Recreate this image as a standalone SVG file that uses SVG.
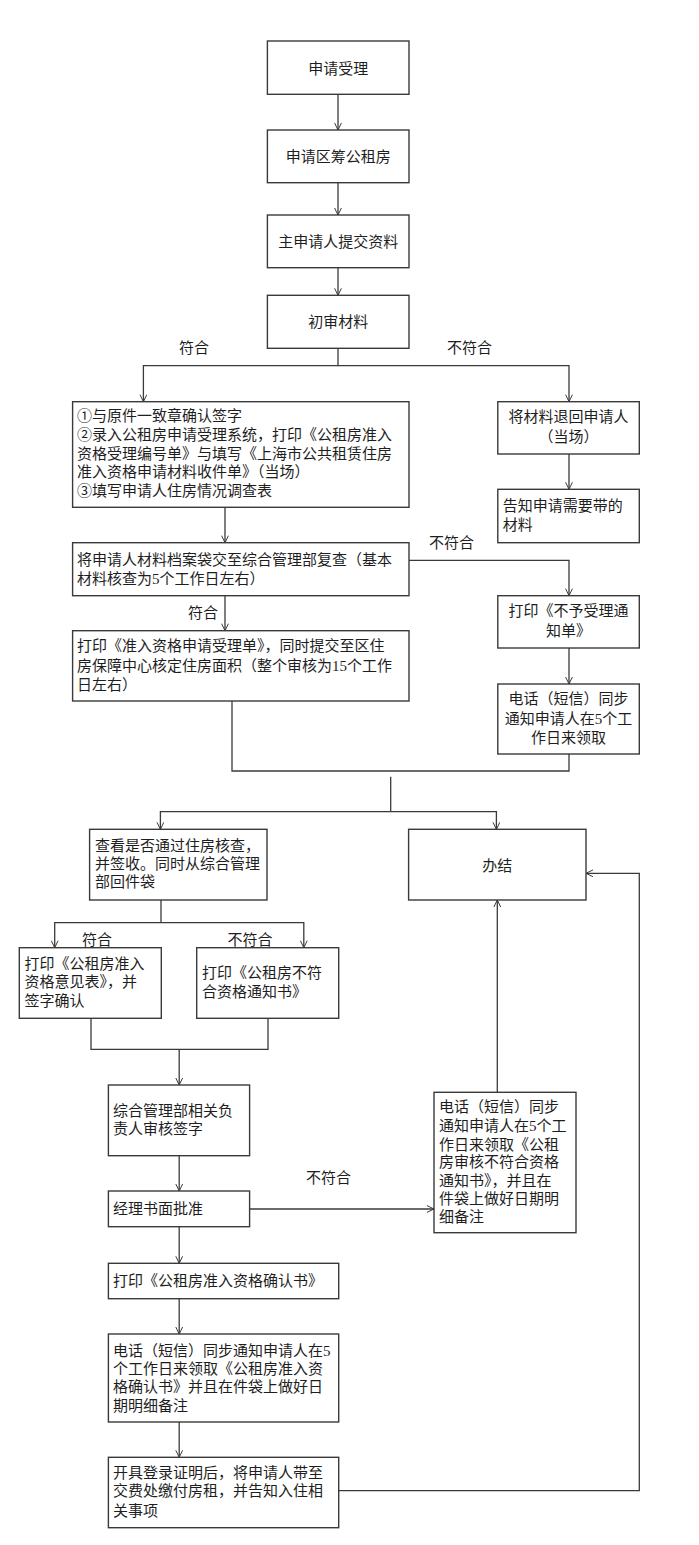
<svg xmlns="http://www.w3.org/2000/svg" width="699" height="1545" viewBox="0 0 699 1545">
<defs>
<marker id="arr" viewBox="0 0 8 8" refX="7.5" refY="4" markerWidth="8" markerHeight="8" markerUnits="userSpaceOnUse" orient="auto">
<path d="M0.5,0.6 L7.5,4 L0.5,7.4" fill="none" stroke="#3a3a3a" stroke-width="1"/>
</marker>
<style>
rect{fill:#fff;stroke:#3a3a3a;stroke-width:1.4}
text{font-family:"Liberation Serif","Noto Sans CJK SC",serif;font-size:15px;fill:#1e1e1e}
.c{text-anchor:middle}
#connectors path{fill:none;stroke:#3a3a3a;stroke-width:1.3}
.a{marker-end:url(#arr)}
</style>
</defs>
<rect x="0" y="0" width="699" height="1545" style="fill:#fff;stroke:none"/>
<g id="connectors">
<path class="a" d="M338,94.3 V130"/>
<path class="a" d="M338,182.7 V215"/>
<path class="a" d="M338,267.7 V295.3"/>
<path class="a" d="M338,348.3 V365.7 H143.4 V401.7"/>
<path class="a" d="M338,365.7 H569 V401.7"/>
<path class="a" d="M225,507.3 V542.7"/>
<path class="a" d="M409,560.3 H569 V595.7"/>
<path class="a" d="M225,595.7 V630.7"/>
<path class="a" d="M569,454 V489.3"/>
<path class="a" d="M569,648 V684"/>
<path d="M232,701 V771 H569 V754"/>
<path d="M390.7,776.7 V811.7"/>
<path class="a" d="M390.7,811.7 H160.4 V829.3"/>
<path class="a" d="M390.7,811.7 H496.4 V829.3"/>
<path d="M161,900 V922.7"/>
<path class="a" d="M161,922.7 H54.7 V947.7"/>
<path class="a" d="M161,922.7 H303.8 V947.7"/>
<path d="M91,1018.3 V1049.3 H268 V1018.3"/>
<path class="a" d="M179.2,1049.3 V1085"/>
<path class="a" d="M179.2,1155.7 V1191"/>
<path class="a" d="M249.6,1209 H434"/>
<path class="a" d="M497.3,1092.3 V900"/>
<path class="a" d="M179.2,1226.7 V1263.3"/>
<path class="a" d="M179.2,1298.7 V1334"/>
<path class="a" d="M179.2,1422 V1457.3"/>
<path class="a" d="M338.7,1490.7 H639.3 V873.3 H586"/>
</g>
<g id="labels">
<text x="179" y="352.5">符合</text>
<text x="447" y="352.5">不符合</text>
<text x="429" y="547.8">不符合</text>
<text x="188" y="617.8">符合</text>
<text x="82" y="944.5">符合</text>
<text x="227.6" y="944.5">不符合</text>
<text x="306" y="1183.2">不符合</text>
</g>
<g id="n1"><rect x="267.4" y="41" width="141.6" height="53.3"/><text class="c" x="338.2" y="73.5">申请受理</text></g>
<g id="n2"><rect x="267.4" y="130" width="141.6" height="52.7"/><text class="c" x="338.2" y="161.5">申请区筹公租房</text></g>
<g id="n3"><rect x="267.4" y="215" width="141.6" height="52.7"/><text class="c" x="338.2" y="246.5">主申请人提交资料</text></g>
<g id="n4"><rect x="267.4" y="295.3" width="141.6" height="53"/><text class="c" x="338.2" y="327">初审材料</text></g>
<g id="nA"><rect x="72.6" y="401.7" width="336.4" height="105.6"/>
<text x="77" y="421.2">①与原件一致章确认签字</text>
<text x="77" y="439.9">②录入公租房申请受理系统，打印《公租房准入</text>
<text x="77" y="458.6">资格受理编号单》与填写《上海市公共租赁住房</text>
<text x="77" y="477.3">准入资格申请材料收件单》（当场）</text>
<text x="77" y="496.3">③填写申请人住房情况调查表</text></g>
<g id="nR1"><rect x="497.8" y="401.7" width="141.5" height="52.3"/>
<text class="c" x="568.5" y="422.2">将材料退回申请人</text>
<text class="c" x="568.5" y="441.5">（当场）</text></g>
<g id="nR2"><rect x="497.8" y="489.3" width="141.5" height="53.4"/>
<text x="502.7" y="511.2">告知申请需要带的</text>
<text x="502.7" y="529.5">材料</text></g>
<g id="nB"><rect x="72.6" y="542.7" width="336.4" height="53"/>
<text x="77" y="564.8">将申请人材料档案袋交至综合管理部复查（基本</text>
<text x="77" y="583.8">材料核查为5个工作日左右）</text></g>
<g id="nC"><rect x="72.6" y="630.7" width="336.4" height="70.3"/>
<text x="77" y="651.2">打印《准入资格申请受理单》，同时提交至区住</text>
<text x="77" y="670.5">房保障中心核定住房面积（整个审核为15个工作</text>
<text x="77" y="689.5">日左右）</text></g>
<g id="nR3"><rect x="497.8" y="595.7" width="141.5" height="52.3"/>
<text class="c" x="568.5" y="616.2">打印《不予受理通</text>
<text class="c" x="568.5" y="635.5">知单》</text></g>
<g id="nR4"><rect x="497.8" y="684" width="141.5" height="70"/>
<text class="c" x="568.5" y="703.8">电话（短信）同步</text>
<text class="c" x="568.5" y="723.8">通知申请人在5个工</text>
<text class="c" x="568.5" y="743.2">作日来领取</text></g>
<g id="nD"><rect x="89.6" y="829.3" width="177.4" height="70.7"/>
<text x="95" y="851.2">查看是否通过住房核查，</text>
<text x="95" y="868.8">并签收。同时从综合管理</text>
<text x="95" y="887.2">部回件袋</text></g>
<g id="nE"><rect x="408.6" y="829.3" width="177.4" height="70.7"/>
<text class="c" x="497.3" y="870.5">办结</text></g>
<g id="nF"><rect x="19.3" y="947.7" width="142" height="70.6"/>
<text x="24.6" y="968.8">打印《公租房准入</text>
<text x="24.6" y="987.2">资格意见表》，并</text>
<text x="24.6" y="1005.5">签字确认</text></g>
<g id="nG"><rect x="196.7" y="947.7" width="142" height="70.6"/>
<text x="202" y="977.8">打印《公租房不符</text>
<text x="202" y="996.5">合资格通知书》</text></g>
<g id="nH"><rect x="108.4" y="1085" width="141.2" height="70.7"/>
<text x="113" y="1115.5">综合管理部相关负</text>
<text x="113" y="1133.8">责人审核签字</text></g>
<g id="nR5"><rect x="434" y="1092.3" width="142" height="140.4"/>
<text x="439" y="1112.2">电话（短信）同步</text>
<text x="439" y="1131.2">通知申请人在5个工</text>
<text x="439" y="1149.5">作日来领取《公租</text>
<text x="439" y="1167.2">房审核不符合资格</text>
<text x="439" y="1185.5">通知书》，并且在</text>
<text x="439" y="1203.8">件袋上做好日期明</text>
<text x="439" y="1222.2">细备注</text></g>
<g id="nI"><rect x="108.4" y="1191" width="141.2" height="35.7"/>
<text x="113" y="1213.8">经理书面批准</text></g>
<g id="nJ"><rect x="108.4" y="1263.3" width="230.3" height="35.4"/>
<text x="113" y="1286.2">打印《公租房准入资格确认书》</text></g>
<g id="nK"><rect x="108.4" y="1334" width="230.3" height="88"/>
<text x="113" y="1355.5">电话（短信）同步通知申请人在5</text>
<text x="113" y="1373.8">个工作日来领取《公租房准入资</text>
<text x="113" y="1392.2">格确认书》并且在件袋上做好日</text>
<text x="113" y="1411.2">期明细备注</text></g>
<g id="nL"><rect x="108.4" y="1457.3" width="230.3" height="70.4"/>
<text x="113" y="1477.8">开具登录证明后，将申请人带至</text>
<text x="113" y="1496.2">交费处缴付房租，并告知入住相</text>
<text x="113" y="1515.5">关事项</text></g>
</svg>
